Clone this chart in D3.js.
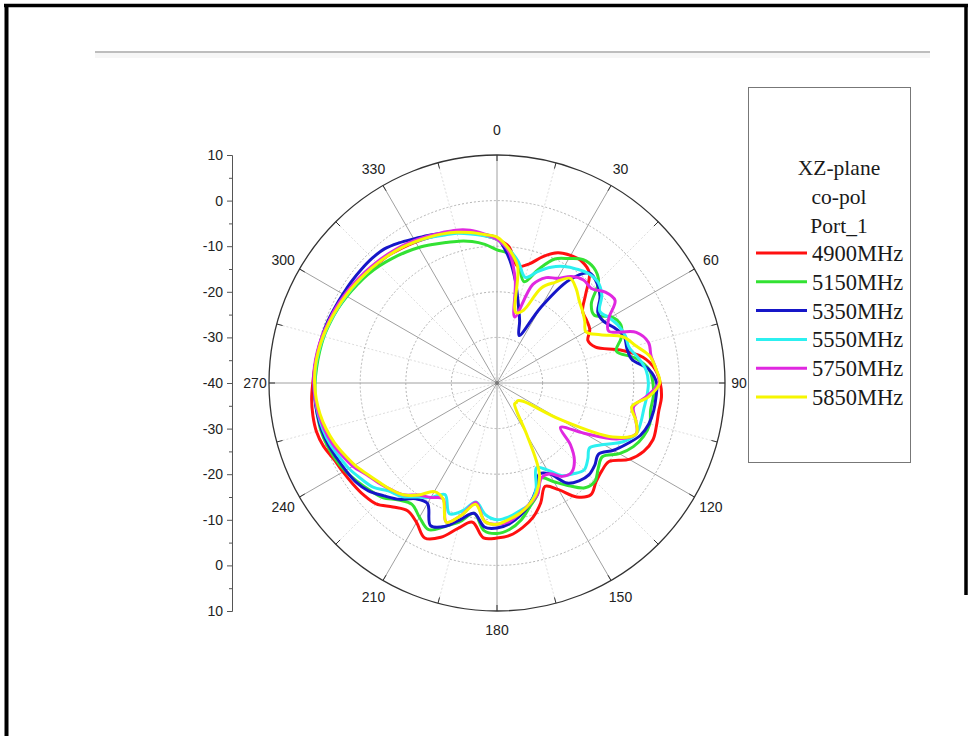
<!DOCTYPE html>
<html><head><meta charset="utf-8">
<script src="https://cdn.jsdelivr.net/npm/d3@7"></script>
<style>body{margin:0;background:#fff}svg{display:block}</style>
</head><body>
<svg id="c" width="973" height="736"></svg>
<script>
// ---------- data ----------
const angles = d3.range(0, 360, 5); // degrees, clockwise from top
const s4900 = [-8.5,-10,-14,-13,-10.5,-8.5,-7.7,-7.5,-8.5,-12.5,-15.5,-16,
  -16.5,-18,-17,-12,-7.5,-5.2,-4.2,-3.8,-4,-3.8,-3.6,-4.5,
  -6.5,-10,-10,-9.3,-8,-9.5,-13,-15,-12,-9.5,-7.8,-6.5,
  -6,-5.9,-9,-7,-4,-2.5,-4.7,-5.8,-4.5,-2.5,-1.8,-1.4,
  -1,-0.5,0.5,1,1,0.8,0.4,0.1,-0.3,-0.5,-0.9,-1.4,
  -1.8,-2.2,-2.6,-3,-3.3,-3.8,-4.3,-4.8,-5.3,-5.8,-6.5,-7.5];
const s5150 = [-10.8,-11.5,-13.5,-17,-13.5,-10,-8.5,-7,-7,-8.5,-13,-14,
  -11,-10,-11,-12.9,-9,-6.5,-5.8,-5.6,-5.8,-5.3,-5.8,-7,
  -9,-11.8,-11,-9.6,-10,-12.5,-15,-17,-14,-12,-9.5,-7.8,
  -7,-7.5,-11,-8.5,-6.5,-4.5,-6,-7.5,-6.5,-4.5,-3.5,-2.5,
  -1.5,-0.8,-0.3,0,0,0,-0.1,-0.3,-0.5,-0.7,-1.1,-1.5,
  -2,-2.5,-3,-3.6,-4.3,-5,-5.7,-6.5,-7.2,-7.8,-8.5,-9.5];
const s5350 = [-8.2,-12,-17,-22,-25.5,-28.5,-21,-12.5,-8.5,-9,-10.5,-13,
  -13,-11.5,-10.3,-10.5,-10,-6.5,-5,-5,-5.1,-5.5,-6.5,-8.5,
  -10.5,-12.8,-12,-11.5,-12,-13.2,-17,-18,-15,-12.5,-10.5,-9,
  -8.2,-8.3,-11,-9,-6.5,-5.5,-9.5,-9,-6.7,-5,-3.2,-2.2,
  -1.7,-1.2,-0.6,-0.2,0,0.1,0.2,0.1,-0.1,-0.3,-0.5,-0.8,
  -1,-1.1,-1.2,-1.3,-1.6,-2.5,-3.5,-4.3,-5,-5.5,-6.3,-7.3];
const s5550 = [-8.5,-10.5,-13,-16,-14,-12,-10.5,-9.5,-8.7,-8.7,-10,-12.5,
  -11.5,-10.5,-10,-10,-8.5,-7.2,-6.8,-7,-7.3,-7.3,-7.5,-9.5,
  -13,-15.2,-14,-13,-14,-15.2,-18,-19.5,-15,-12.5,-11.5,-10.5,
  -10,-11,-13.5,-11,-9.5,-13,-11,-9.5,-7.5,-6.5,-4.5,-3.5,
  -2.5,-1.8,-1,-0.5,-0.2,0,0,-0.1,-0.3,-0.6,-1,-1.4,
  -1.8,-2.2,-2.5,-2.8,-3.2,-3.6,-4.2,-4.8,-5.5,-6,-6.8,-7.6];
const s5750 = [-8.5,-11,-17,-25,-17,-14.5,-13.5,-11.5,-10.5,-10.7,-9,-8.4,
  -11.7,-13,-7.5,-5.6,-5.7,-5,-4.5,-7,-9.6,-8.5,-7.5,-11,
  -18,-23,-19,-16,-14.5,-15,-17,-17,-14,-12.5,-11,-9.5,
  -9,-9.5,-13.4,-10,-7.5,-12,-11,-10,-8,-7,-6,-5,
  -3.5,-2.5,-1.5,-0.8,-0.3,0,0.2,0.2,0,-0.3,-0.7,-1,
  -1.4,-1.8,-2.2,-2.6,-3,-3.4,-3.9,-4.4,-4.9,-5.3,-6,-7.2];
const s5850 = [-8,-10.5,-14,-24,-23,-17,-14.5,-12,-13,-14.5,-15.5,-16.5,
  -17.5,-15,-10.5,-8.5,-6,-5,-4.3,-6.5,-10,-8.5,-7.5,-12,
  -24,-33,-34,-34,-34,-32.5,-27,-18,-14.5,-12.5,-11,-10,
  -9,-9.5,-13,-10,-7.5,-12,-12.5,-10,-8,-7,-6.2,-5.2,
  -4,-3,-2,-1.2,-0.6,-0.2,0,0,-0.2,-0.5,-0.9,-1.3,
  -1.7,-2.1,-2.5,-2.9,-3.3,-3.7,-4.2,-4.7,-5.2,-5.8,-6.5,-7.3];
const seriesNames = ["4900MHz","5150MHz","5350MHz","5550MHz","5750MHz","5850MHz"];
const seriesValues = [s4900, s5150, s5350, s5550, s5750, s5850];
const seriesColors = ["#ff1010","#33e233","#1616c8","#2cf0f0","#e028e0","#f6f600"];
const angleLabels = [0,30,60,90,120,150,180,210,240,270,300,330];
const gridRings = [-30,-20,-10,0];
const axisTickLabels = ["10","0","-10","-20","-30","-40","-30","-20","-10","0","10"];
const legendTitle = ["XZ-plane","co-pol","Port_1"];

// ---------- drawing ----------
const svg = d3.select("#c");
const sans = "'Liberation Sans', Arial, sans-serif";
const serif = "'Liberation Serif', 'Times New Roman', serif";

// page frame
svg.append("line").attr("x1",4).attr("x2",968).attr("y1",5.5).attr("y2",5.5).attr("stroke","#000").attr("stroke-width",3.5);
svg.append("line").attr("x1",6.5).attr("x2",6.5).attr("y1",4).attr("y2",736).attr("stroke","#000").attr("stroke-width",4);
svg.append("line").attr("x1",966).attr("x2",966).attr("y1",4).attr("y2",595).attr("stroke","#000").attr("stroke-width",3.5);
svg.append("rect").attr("x",95).attr("y",53).attr("width",835).attr("height",5).attr("fill","#f6f6f6");
svg.append("line").attr("x1",95).attr("x2",930).attr("y1",52).attr("y2",52).attr("stroke","#bdbdbd").attr("stroke-width",2);

const cx = 497, cy = 383, R = 228;
const r = d3.scaleLinear().domain([-40, 10]).range([0, R]);
const rad = d => d * Math.PI / 180;
const g = svg.append("g").attr("transform", `translate(${cx},${cy})`);

// minor spokes (dotted)
d3.range(15, 360, 30).forEach(a => {
  g.append("line").attr("x1",0).attr("y1",0)
    .attr("x2", R*Math.sin(rad(a))).attr("y2", -R*Math.cos(rad(a)))
    .attr("stroke","#d4d4d4").attr("stroke-width",0.8).attr("stroke-dasharray","2,2");
});
// grid rings
gridRings.forEach(v => {
  g.append("circle").attr("r", r(v)).attr("fill","none")
    .attr("stroke","#aaaaaa").attr("stroke-width",0.9).attr("stroke-dasharray","2,2");
});
// major spokes
angleLabels.forEach(a => {
  g.append("line").attr("x1",0).attr("y1",0)
    .attr("x2", R*Math.sin(rad(a))).attr("y2", -R*Math.cos(rad(a)))
    .attr("stroke","#a0a0a0").attr("stroke-width",1);
});
// outer ring + ticks
g.append("circle").attr("r", R).attr("fill","none").attr("stroke","#333").attr("stroke-width",1.3);
d3.range(0, 360, 15).forEach(a => {
  const s = Math.sin(rad(a)), c = Math.cos(rad(a));
  g.append("line").attr("x1",(R-6)*s).attr("y1",-(R-6)*c).attr("x2",R*s).attr("y2",-R*c)
    .attr("stroke","#333").attr("stroke-width",1);
});
g.append("circle").attr("r",2).attr("fill","#777");

// series
const line = d3.lineRadial()
  .angle(d => rad(d[0]))
  .radius(d => r(d[1]))
  .curve(d3.curveCatmullRomClosed.alpha(0.5));
seriesValues.forEach((vals, i) => {
  const pts = angles.map((a, k) => [a, vals[k]]);
  g.append("path").attr("d", line(pts)).attr("fill","none")
    .attr("stroke", seriesColors[i]).attr("stroke-width",3)
    .attr("stroke-linejoin","round");
});

// legend
svg.append("rect").attr("x",748.5).attr("y",87.5).attr("width",162).attr("height",375)
  .attr("fill","none").attr("stroke","#777").attr("stroke-width",1);
legendTitle.forEach((t, i) => {
  svg.append("text").attr("x",839).attr("y",175 + i*29).attr("text-anchor","middle")
    .attr("font-family", serif).attr("font-size",21.5).attr("fill","#1a1a1a").text(t);
});
seriesNames.forEach((n, i) => {
  const ly = 253 + i*28.8;
  svg.append("line").attr("x1",756).attr("x2",807).attr("y1",ly).attr("y2",ly)
    .attr("stroke", seriesColors[i]).attr("stroke-width",3);
  svg.append("text").attr("x",812).attr("y",ly+8)
    .attr("font-family", serif).attr("font-size",22.5).attr("fill","#1a1a1a").text(n);
});

// angle labels
angleLabels.forEach(a => {
  const lr = a === 0 ? 253 : (a === 90 || a === 270 ? 242 : 247);
  g.append("text").attr("x", lr*Math.sin(rad(a))).attr("y", -lr*Math.cos(rad(a)))
    .attr("text-anchor","middle").attr("dominant-baseline","central")
    .attr("font-family", sans).attr("font-size",14).attr("fill","#222").text(a);
});

// left axis
const yAx = d3.scaleLinear().domain([0, 10]).range([155, 611]);
const axG = svg.append("g").attr("transform","translate(232,0)");
axG.call(d3.axisLeft(yAx).tickValues(d3.range(0, 11)).tickFormat(i => axisTickLabels[i]).tickSize(5).tickSizeOuter(0).tickPadding(4));
axG.selectAll("path,line").attr("stroke","#555");
axG.selectAll("text").attr("font-family", sans).attr("font-size",14).attr("fill","#222");
const axMinor = svg.append("g").attr("transform","translate(232,0)");
axMinor.call(d3.axisLeft(yAx).tickValues(d3.range(0.5, 10, 1)).tickFormat("").tickSize(3).tickSizeOuter(0));
axMinor.selectAll("path,line").attr("stroke","#555");
</script>
</body></html>
